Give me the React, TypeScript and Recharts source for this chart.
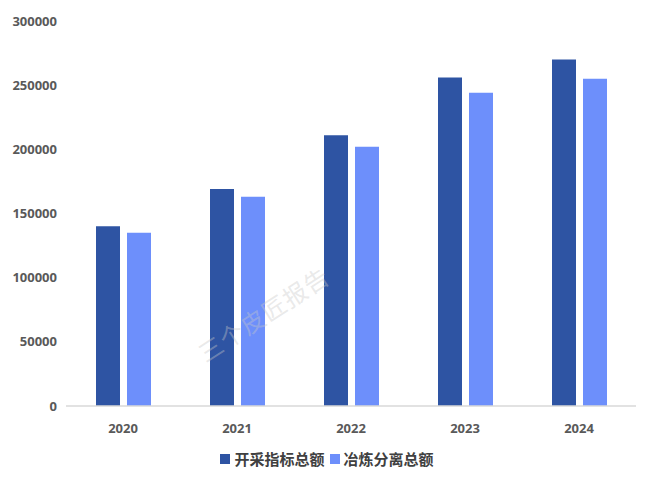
import React from "react";
import { BarChart, Bar, XAxis, YAxis, Legend } from "recharts";

const years = ["2020", "2021", "2022", "2023", "2024"];
const miningQuota = [140000, 169000, 211000, 256000, 270000];
const smeltingQuota = [135000, 163000, 202000, 244000, 255000];
const yTicks = [0, 50000, 100000, 150000, 200000, 250000, 300000];

const seriesNames = ["开采指标总额", "冶炼分离总额"];
const seriesColors = ["#2E54A3", "#6D8FFB"];

const data = years.map((y, i) => ({
  year: y,
  mining: miningQuota[i],
  smelting: smeltingQuota[i],
}));

const tickStyle = {
  fill: "#595959",
  fontSize: 13,
  fontWeight: 700,
  fontFamily: "'Noto Sans', 'Open Sans', sans-serif",
};

const LegendContent = () => (
  <div
    style={{
      display: "flex",
      justifyContent: "center",
      alignItems: "center",
      fontFamily: "'Noto Sans CJK SC', sans-serif",
      fontWeight: 700,
      fontSize: 15,
      color: "#404040",
      paddingLeft: 2,
    }}
  >
    {seriesNames.map((n, i) => (
      <div key={n} style={{ display: "flex", alignItems: "center", marginRight: i === 0 ? 5 : 0 }}>
        <span style={{ display: "inline-block", width: 10, height: 10, background: seriesColors[i], marginRight: 4 }} />
        <span>{n}</span>
      </div>
    ))}
  </div>
);

export default function App() {
  return (
    <div style={{ position: "absolute", left: 0, top: 0, width: 652, height: 483, background: "#fff" }}>
      <BarChart
        width={652}
        height={483}
        data={data}
        margin={{ top: 21, right: 16, bottom: 47, left: 0 }}
        barGap={7}
        barSize={24}
      >
        <XAxis
          dataKey="year"
          tickLine={false}
          axisLine={{ stroke: "#d9d9d9", strokeWidth: 1.5 }}
          tick={tickStyle}
          tickMargin={12}
          height={30}
        />
        <YAxis
          domain={[0, 300000]}
          ticks={yTicks}
          axisLine={false}
          tickLine={false}
          tick={tickStyle}
          tickMargin={3}
          width={66}
        />
        <Legend
          verticalAlign="middle"
          align="center"
          content={<LegendContent />}
          wrapperStyle={{ top: 448, left: 0, width: 652 }}
        />
        <Bar dataKey="mining" name={seriesNames[0]} fill={seriesColors[0]} isAnimationActive={false} />
        <Bar dataKey="smelting" name={seriesNames[1]} fill={seriesColors[1]} isAnimationActive={false} />
      </BarChart>
      <div
        style={{
          position: "absolute",
          left: 188,
          top: 296,
          width: 150,
          textAlign: "center",
          transform: "rotate(-33deg)",
          fontFamily: "'Noto Sans CJK SC', sans-serif",
          fontSize: 24,
          color: "rgba(200,200,200,0.4)",
          pointerEvents: "none",
          whiteSpace: "nowrap",
          letterSpacing: 1,
        }}
      >
        三个皮匠报告
      </div>
    </div>
  );
}
